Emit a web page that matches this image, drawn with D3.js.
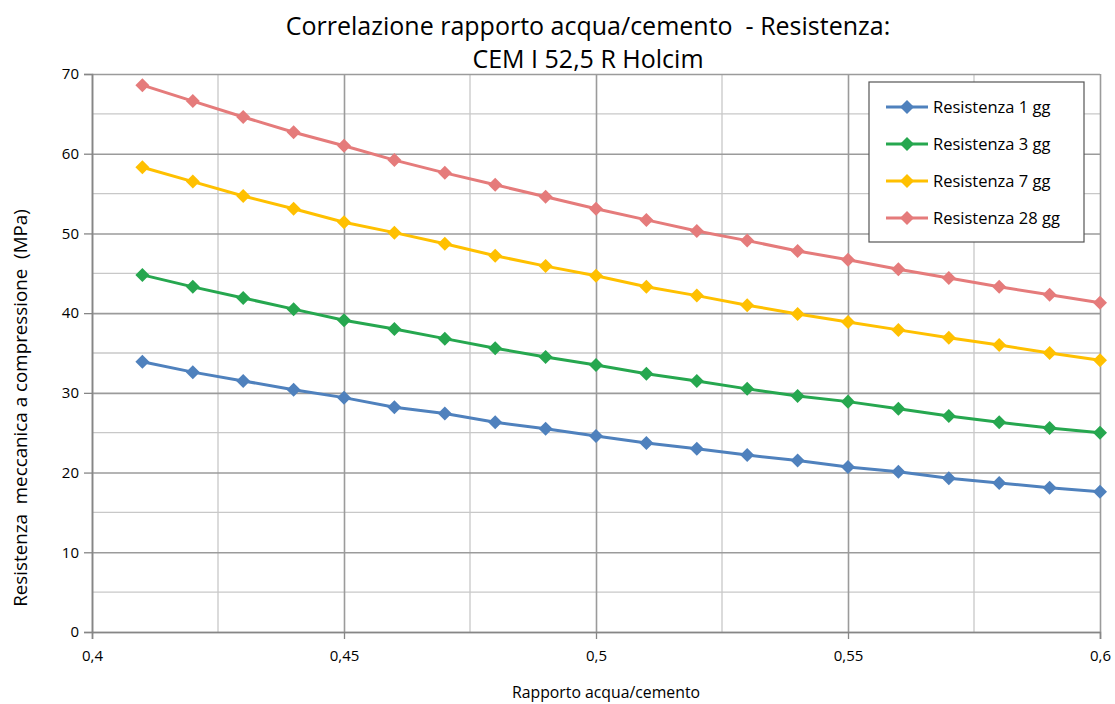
<!DOCTYPE html>
<html>
<head>
<meta charset="utf-8">
<script src="https://cdn.jsdelivr.net/npm/d3@7"></script>
<style>
  body { margin: 0; background: #fff; }
  svg { font-family: "Open Sans", Lato, sans-serif; }
</style>
</head>
<body>
<div id="chart"></div>
<script>
// rapporto acqua/cemento
const ratios = [0.41, 0.42, 0.43, 0.44, 0.45, 0.46, 0.47, 0.48, 0.49, 0.50,
                0.51, 0.52, 0.53, 0.54, 0.55, 0.56, 0.57, 0.58, 0.59, 0.60];
const res1 = [33.9, 32.6, 31.5, 30.4, 29.4, 28.2, 27.4, 26.3, 25.5, 24.6,
              23.7, 23.0, 22.2, 21.5, 20.7, 20.1, 19.3, 18.7, 18.1, 17.6];
const res3 = [44.8, 43.3, 41.9, 40.5, 39.1, 38.0, 36.8, 35.6, 34.5, 33.5,
              32.4, 31.5, 30.5, 29.6, 28.9, 28.0, 27.1, 26.3, 25.6, 25.0];
const res7 = [58.3, 56.5, 54.7, 53.1, 51.4, 50.1, 48.7, 47.2, 45.9, 44.7,
              43.3, 42.2, 41.0, 39.9, 38.9, 37.9, 36.9, 36.0, 35.0, 34.1];
const res28 = [68.6, 66.6, 64.6, 62.7, 61.0, 59.2, 57.6, 56.1, 54.6, 53.1,
               51.7, 50.3, 49.1, 47.8, 46.7, 45.5, 44.4, 43.3, 42.3, 41.3];
const seriesNames = ["Resistenza 1 gg", "Resistenza 3 gg", "Resistenza 7 gg", "Resistenza 28 gg"];
const colors = ["#4F81BD", "#26A74F", "#FFC000", "#E57B7B"];
const xTicks = [0.4, 0.45, 0.5, 0.55, 0.6];
const xTickLabels = ["0,4", "0,45", "0,5", "0,55", "0,6"];
const yTicks = [0, 10, 20, 30, 40, 50, 60, 70];

const W = 1115, H = 704;
const margin = { top: 74, right: 15, bottom: 72, left: 92 };
const width = W - margin.left - margin.right;
const height = H - margin.top - margin.bottom;

const svg = d3.select("#chart").append("svg")
    .attr("width", W)
    .attr("height", H);

const g = svg.append("g")
    .attr("transform", `translate(${margin.left},${margin.top})`);

const x = d3.scaleLinear().domain([0.4, 0.6]).range([0, width]);
const y = d3.scaleLinear().domain([0, 70]).range([height, 0]);

// minor gridlines
g.append("g")
    .selectAll("line")
    .data([0.425, 0.475, 0.525, 0.575])
    .join("line")
    .attr("x1", d => x(d)).attr("x2", d => x(d))
    .attr("y1", 0).attr("y2", height)
    .attr("stroke", "#c8c8c8").attr("stroke-width", 1.3);
g.append("g")
    .selectAll("line")
    .data([5, 15, 25, 35, 45, 55, 65])
    .join("line")
    .attr("x1", 0).attr("x2", width)
    .attr("y1", d => y(d)).attr("y2", d => y(d))
    .attr("stroke", "#c8c8c8").attr("stroke-width", 1.3);

// major gridlines
g.append("g")
    .call(d3.axisBottom(x).tickValues(xTicks).tickSize(height).tickFormat(""))
    .call(s => s.select(".domain").remove())
    .call(s => s.selectAll("line").attr("stroke", "#9b9b9b").attr("stroke-width", 1.6));
g.append("g")
    .call(d3.axisLeft(y).tickValues(yTicks).tickSize(-width).tickFormat(""))
    .call(s => s.select(".domain").remove())
    .call(s => s.selectAll("line").attr("stroke", "#9b9b9b").attr("stroke-width", 1.6));

// axes
const xAxis = g.append("g")
    .attr("transform", `translate(0,${height})`)
    .call(d3.axisBottom(x).tickValues(xTicks).tickSize(7).tickPadding(11)
        .tickFormat((d, i) => xTickLabels[i]));
const yAxis = g.append("g")
    .call(d3.axisLeft(y).tickValues(yTicks).tickSize(8).tickPadding(5));
[xAxis, yAxis].forEach(a => {
  a.select(".domain").attr("stroke", "#868686").attr("stroke-width", 1.6);
  a.selectAll(".tick line").attr("stroke", "#868686").attr("stroke-width", 1.3);
  a.selectAll("text").attr("fill", "#000").style("font-size", "15px")
      .style("font-family", "'Open Sans', sans-serif");
});

// series
const allSeries = [res1, res3, res7, res28];
const line = d3.line().x((d, i) => x(ratios[i])).y(d => y(d));
const diamond = d3.symbol().type(d3.symbolDiamond2).size(125);

allSeries.forEach((vals, k) => {
  g.append("path")
      .datum(vals)
      .attr("fill", "none")
      .attr("stroke", colors[k])
      .attr("stroke-width", 3)
      .attr("d", line);
  g.append("g")
      .selectAll("path")
      .data(vals)
      .join("path")
      .attr("transform", (d, i) => `translate(${x(ratios[i])},${y(d)})`)
      .attr("d", diamond)
      .attr("fill", colors[k]);
});

// title
const title = svg.append("text")
    .attr("text-anchor", "middle")
    .style("font-size", "25px")
    .attr("fill", "#000");
title.append("tspan").attr("x", 588).attr("y", 35)
    .text("Correlazione rapporto acqua/cemento\u00a0 - Resistenza:");
title.append("tspan").attr("x", 588).attr("y", 68)
    .text("CEM I 52,5 R Holcim");

// axis titles
svg.append("text")
    .attr("text-anchor", "middle")
    .attr("x", 606).attr("y", 698)
    .style("font-size", "15.8px")
    .text("Rapporto acqua/cemento");
svg.append("text")
    .attr("text-anchor", "middle")
    .attr("transform", "translate(27,408) rotate(-90)")
    .style("font-size", "18.8px")
    .text("Resistenza\u00a0 meccanica a compressione\u00a0 (MPa)");

// legend
const legend = svg.append("g").attr("transform", "translate(869,82)");
legend.append("rect")
    .attr("width", 215).attr("height", 160)
    .attr("fill", "#fff").attr("stroke", "#555").attr("stroke-width", 1.2);
seriesNames.forEach((name, k) => {
  const ly = 25 + k * 37;
  legend.append("line")
      .attr("x1", 17).attr("x2", 59).attr("y1", ly).attr("y2", ly)
      .attr("stroke", colors[k]).attr("stroke-width", 3);
  legend.append("path")
      .attr("transform", `translate(38,${ly})`)
      .attr("d", diamond)
      .attr("fill", colors[k]);
  legend.append("text")
      .attr("x", 64).attr("y", ly + 6)
      .style("font-size", "16.5px")
      .text(name);
});
</script>
</body>
</html>
